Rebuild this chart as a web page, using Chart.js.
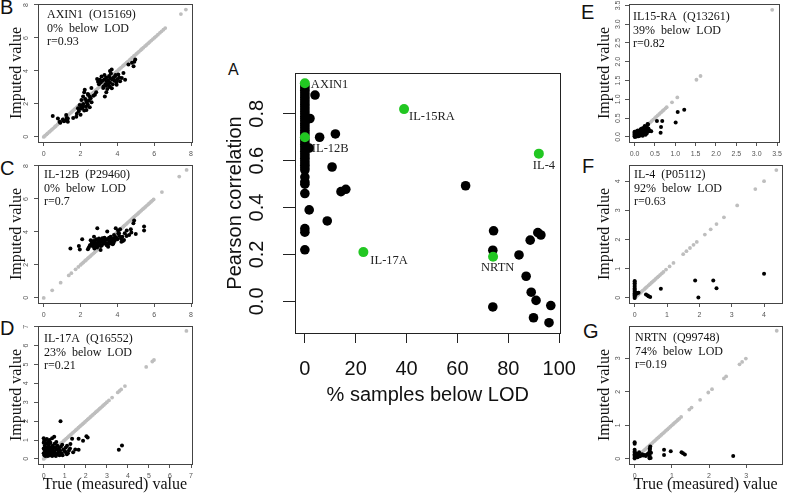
<!DOCTYPE html>
<html><head><meta charset="utf-8">
<script src="https://cdn.jsdelivr.net/npm/chart.js@4.4.1/dist/chart.umd.min.js"></script>
<style>
html,body{margin:0;padding:0;background:#fff}
body{width:786px;height:494px;position:relative;overflow:hidden}
canvas{position:absolute}
.lab{position:absolute;font-family:"Liberation Sans",Arial,sans-serif;color:#111;line-height:1;white-space:nowrap}
</style></head><body>
<div class="lab" style="left:0px;top:-3px;font-size:20px">B</div>
<div class="lab" style="left:0px;top:158px;font-size:20px">C</div>
<div class="lab" style="left:0px;top:318px;font-size:20px">D</div>
<div class="lab" style="left:581px;top:2px;font-size:20px">E</div>
<div class="lab" style="left:582px;top:156px;font-size:20px">F</div>
<div class="lab" style="left:583px;top:321px;font-size:20px">G</div>
<div class="lab" style="left:228px;top:62px;font-size:16px">A</div>
<script>
// ---------------- DATA ----------------
// Panel A: % samples below LOD vs Pearson correlation
const aBlackX = [0,0,0,0,0,0,0,0,0,0,0,0,0,0,0,0,0,0,0,0,0,0,0,0,0,0,0,0,0,0,0,0,0,0,0,0,0,0,0,0,0,0,0,
  4,2,5.8,12,1.7,10.7,14.2,16.1,63.2,1.7,8.8,74.2,73.9,91.6,92.8,88.6,84.2,87,89,90.9,73.9,96.7,89.9,96];
const aBlackY = [0.92,0.91,0.90,0.89,0.88,0.87,0.86,0.85,0.84,0.83,0.82,0.81,0.80,0.79,0.78,0.77,0.76,0.75,0.74,0.73,0.72,0.71,0.69,0.68,0.67,0.66,0.65,0.64,0.63,0.62,0.61,0.60,0.59,0.58,0.57,0.56,0.53,0.51,0.50,0.46,0.31,0.295,0.22,
  0.88,0.78,0.70,0.714,0.654,0.573,0.468,0.478,0.493,0.39,0.343,0.301,0.218,0.293,0.283,0.261,0.198,0.107,0.039,0.004,-0.024,-0.018,-0.07,-0.091];
const aGreenNames = ["AXIN1","IL-12B","IL-15RA","IL-4","IL-17A","NRTN"];
const aGreenX = [0,0,39,92,23,74];
const aGreenY = [0.93,0.70,0.82,0.63,0.21,0.19];
const aXTicks = ["0","20","40","60","80","100"];
const aYTicks = ["0.0","0.2","0.4","0.6","0.8"];

// Panel B: AXIN1
const bPts = [[0.49,1.27],[0.77,1.12],[0.86,0.92],[1.04,1.06],[1.22,1.33],[1.31,1.12],[1.31,0.92],[1.77,1.22],[1.86,1.73],[1.95,1.94],
 [2.05,2.24],[2.14,2.45],[2.14,1.84],[2.23,2.86],[2.32,2.14],[2.32,1.63],[2.41,2.55],[2.5,2.45],[2.59,2.96],[2.78,2.55],
 [2.9,3.51],[3.05,3.47],[3.14,3.67],[3.23,2.96],[3.32,2.45],[3.38,3.1],[3.42,3.37],[3.5,3.16],[3.6,3.57],[3.6,3.02],
 [3.69,4.08],[3.78,3.47],[3.87,3.67],[3.96,3.16],[4.05,3.78],[4.15,3.37],[4.24,3.57],[4.33,3.88],[4.42,3.47],[4.6,4.39],
 [4.79,4.49],[4.88,4.29],[4.97,4.69],[4.92,4.55],
 [1.9,1.55],[2.0,1.7],[2.05,1.9],[2.1,1.75],[2.15,2.0],[2.2,1.6],[2.25,2.3],[2.3,1.85],[2.35,2.05],[2.4,1.95],[2.45,2.2],[2.5,1.8],
 [2.55,2.35],[2.6,2.1],[2.7,2.5],[1.8,1.4],[1.6,1.15],[2.0,1.35],[2.2,2.7],[2.4,2.6],[1.2,1.0],[1.25,1.15],[1.1,0.95],[0.9,0.85],
 [3.0,3.2],[3.1,3.3],[3.2,3.4],[3.25,3.05],[3.3,3.5],[3.35,3.2],[3.4,3.6],[3.45,2.9],[3.5,3.4],[3.55,3.7],[3.6,3.3],[3.65,3.85],
 [3.7,3.5],[3.75,3.2],[3.8,3.6],[3.85,3.4],[3.9,3.75],[4.0,3.5],[4.1,3.6],[3.3,3.75],[3.55,3.1],[3.7,2.95],[3.6,4.0],[3.95,3.3],
 [3.4,2.7],[2.95,3.35],[2.85,2.7]];
const bGray = [0.0,0.07,0.15,0.21,0.3,0.37,0.44,0.52,0.6,0.66,0.75,0.83,0.9,0.97,1.06,1.12,1.2,1.29,1.35,1.43,1.5,1.58,1.66,1.73,1.8,1.87,1.96,2.03,2.1,2.19,2.25,2.33,2.41,2.47,2.56,2.63,2.7,2.79,2.85,2.93,3.01,3.08,3.15,3.24,3.3,3.37,3.46,3.52,3.6,3.69,3.75,3.83,3.9,3.97,4.06,4.12,4.2,4.29,4.35,4.43,4.5,4.57,4.66,4.72,4.8,4.89,4.95,5.03,5.1,5.17,5.26,5.33,5.41,5.5,5.58,5.67,5.75,5.84,5.93,6.02,6.1,6.2,6.31,6.4,6.5,6.6,7.45,7.72];
const bText = ["AXIN1  (O15169)","0%  below  LOD","r=0.93"];

// Panel C: IL-12B
const cPts = [[1.45,3.0],[1.91,3.14],[1.96,2.94],[2.09,3.55],[2.45,3.06],[2.51,3.2],[2.64,3.41],[2.73,3.71],[2.76,3.27],[2.82,3.1],
 [2.91,4.22],[2.95,3.51],[3.0,3.2],[3.09,3.41],[3.09,2.9],[3.18,3.61],[3.27,3.31],[3.36,3.55],[3.42,3.2],[3.45,4.02],
 [3.55,3.41],[3.64,3.71],[3.73,3.51],[3.78,3.31],[3.82,3.82],[3.91,4.22],[3.96,3.61],[4.04,4.08],[4.09,3.92],[4.15,4.16],
 [4.22,3.41],[4.27,3.71],[4.36,3.51],[4.4,3.92],[4.51,4.08],[4.64,3.82],[4.73,4.16],[4.76,3.96],[4.87,4.53],[4.91,4.69],
 [5.0,3.88],[5.45,4.33],[5.45,4.08],
 [2.6,3.3],[2.7,3.45],[2.75,3.0],[2.8,3.35],[2.85,3.55],[2.9,3.25],[2.95,3.4],[3.0,3.6],[3.05,3.3],[3.1,3.5],[3.15,3.2],[3.2,3.45],
 [3.25,3.6],[3.3,3.35],[3.35,3.5],[3.4,3.3],[3.45,3.55],[3.5,3.25],[3.55,3.65],[3.6,3.45],[3.65,3.3],[3.7,3.55],[3.75,3.4],[3.8,3.6],
 [3.85,3.45],[3.9,3.7],[4.0,3.55],[4.1,3.75],[4.2,3.6],[2.55,3.5],[2.65,3.15],[2.9,3.05],[3.1,3.15],[3.3,3.65],[3.5,3.1],[3.75,3.25],
 [4.05,3.9],[4.3,3.45],[4.5,3.75],[2.4,2.95]];
const cGray = [0.0,0.46,0.92,1.36,1.5,1.73,1.88,2.0,2.08,2.15,2.24,2.3,2.39,2.46,2.53,2.61,2.69,2.76,2.84,2.91,2.98,3.06,3.14,3.2,3.29,3.36,3.43,3.51,3.58,3.66,3.73,3.81,3.88,3.96,4.03,4.1,4.18,4.26,4.33,4.4,4.48,4.55,4.63,4.7,4.78,4.85,4.92,5.0,5.08,5.15,5.22,5.3,5.38,5.45,5.52,5.6,5.68,5.75,5.83,5.9,5.97,6.42,7.36,7.76];
const cText = ["IL-12B  (P29460)","0%  below  LOD","r=0.7"];

// Panel D: IL-17A
const dPts = [[0,1.1],[0,0.85],[0,0.55],[0,0.3],[0.02,0.95],[0.03,0.2],[0.05,0.7],[0.05,0.45],[0.06,1.0],[0.08,0.35],[0.08,0.15],
 [0.1,0.6],[0.1,0.25],[0.12,0.8],[0.12,0.4],[0.15,1.05],[0.15,0.2],[0.18,0.55],[0.18,0.3],[0.2,0.9],[0.2,0.15],[0.22,0.65],
 [0.25,0.4],[0.25,0.75],[0.28,0.2],[0.28,1.0],[0.3,0.5],[0.3,0.3],[0.32,0.85],[0.35,0.25],[0.35,0.6],[0.38,0.45],[0.4,1.1],
 [0.4,0.15],[0.42,0.7],[0.45,0.35],[0.45,0.55],[0.48,0.2],[0.5,1.17],[0.5,0.4],[0.52,0.8],[0.55,0.3],[0.55,0.6],[0.58,0.15],
 [0.6,0.9],[0.62,0.5],[0.65,0.25],[0.65,0.7],[0.7,0.35],[0.72,0.55],[0.75,0.2],[0.78,0.45],[0.8,2.0],[0.82,0.65],[0.85,0.3],
 [0.88,0.75],[0.9,0.2],[0.95,0.5],[1.0,0.4],[1.03,0.36],[1.05,0.6],[1.1,0.25],[1.11,0.7],[1.15,0.3],[1.2,0.45],[1.25,0.55],
 [1.27,0.79],[1.35,1.07],[1.4,0.35],[1.5,0.5],[1.66,1.07],[1.66,0.48],[1.87,0.96],[2.03,1.2],[2.09,1.14],[3.57,0.48],[3.72,0.71]];
const dGray = [0.0,0.06,0.12,0.19,0.25,0.31,0.38,0.44,0.5,0.57,0.63,0.69,0.76,0.82,0.88,0.95,1.01,1.07,1.14,1.2,1.27,1.33,1.39,1.46,1.52,1.58,1.65,1.71,1.77,1.84,1.9,1.96,2.03,2.09,2.15,2.22,2.28,2.34,2.41,2.47,2.53,2.6,2.66,2.72,2.79,2.86,2.93,3.0,3.1,3.25,3.52,3.6,3.68,3.86,4.87,5.16,5.24,6.78];
const dText = ["IL-17A  (Q16552)","23%  below  LOD","r=0.21"];

// Panel E: IL15-RA
const ePts = [[0,0.02],[0,0.05],[0,0.08],[0,0.11],[0,0.14],[0.01,0.0],[0.02,0.06],[0.02,0.12],[0.03,0.03],[0.04,0.09],[0.05,0.15],
 [0.05,0.01],[0.06,0.06],[0.07,0.11],[0.08,0.03],[0.08,0.17],[0.09,0.08],[0.1,0.13],[0.1,0.02],[0.11,0.06],[0.12,0.1],[0.13,0.15],
 [0.14,0.04],[0.15,0.08],[0.15,0.2],[0.16,0.12],[0.17,0.05],[0.18,0.22],[0.19,0.09],[0.2,0.14],[0.2,0.03],[0.21,0.18],[0.22,0.07],
 [0.23,0.25],[0.24,0.11],[0.25,0.29],[0.26,0.16],[0.27,0.06],[0.28,0.2],[0.29,0.12],[0.3,0.26],[0.3,0.09],[0.31,0.17],[0.32,0.34],
 [0.33,0.33],[0.34,0.22],[0.35,0.15],[0.37,0.17],[0.41,0.15],[0.55,0.42],[0.64,0.11],[0.65,0.26],[0.68,0.42],[1.01,0.38],[1.06,0.66],[1.22,0.72]];
const eGray = [0.0,0.04,0.08,0.11,0.15,0.19,0.23,0.27,0.3,0.34,0.38,0.42,0.46,0.5,0.53,0.57,0.61,0.65,0.69,0.72,0.76,0.79,0.92,1.05,1.52,1.62,3.38];
const eText = ["IL15-RA  (Q13261)","39%  below  LOD","r=0.82"];

// Panel F: IL-4
const fPts = [[0,0.0],[0,0.04],[0,0.08],[0,0.12],[0,0.16],[0,0.2],[0,0.24],[0,0.28],[0,0.32],[0,0.38],[0,0.44],[0,0.5],[0,0.55],[0,0.58],
 [0.02,0.1],[0.03,0.18],[0.05,0.14],[0.08,0.17],[0.12,0.18],[0.35,0.12],[0.4,0.08],[0.43,0.06],[0.48,0.03],[0.81,0.31],
 [1.87,0.6],[1.97,0.01],[2.43,0.6],[2.53,0.33],[4.0,0.83]];
const fGray = [0.0,0.04,0.08,0.12,0.17,0.21,0.25,0.3,0.34,0.38,0.43,0.47,0.52,0.56,0.6,0.65,0.7,0.74,0.79,0.84,0.89,0.97,1.08,1.2,1.5,1.6,1.71,1.82,1.92,2.17,2.35,2.53,2.76,3.17,3.73,4.0,4.38];
const fText = ["IL-4  (P05112)","92%  below  LOD","r=0.63"];

// Panel G: NRTN
const gPts = [[0,0.02],[0,0.06],[0,0.1],[0,0.14],[0,0.18],[0,0.22],[0,0.27],[0,0.45],[0,0.5],[0.03,0.08],[0.05,0.15],[0.08,0.05],
 [0.1,0.12],[0.12,0.2],[0.14,0.08],[0.17,0.1],[0.2,0.14],[0.23,0.1],[0.26,0.12],[0.3,0.09],[0.33,0.13],[0.36,0.15],[0.4,0.02],
 [0.4,0.06],[0.4,0.1],[0.4,0.16],[0.4,0.22],[0.41,0.27],[0.41,0.32],[0.42,0.37],[0.43,0.03],[0.44,0.18],[0.79,0.27],[0.79,0.12],
 [0.97,0.23],[1.26,0.2],[1.3,0.17],[1.35,0.13],[2.65,0.09]];
const gGray = [0.0,0.04,0.08,0.12,0.16,0.2,0.24,0.28,0.32,0.36,0.4,0.44,0.48,0.52,0.56,0.6,0.64,0.68,0.72,0.76,0.8,0.84,0.88,0.92,0.96,1.0,1.04,1.08,1.12,1.16,1.2,1.25,1.47,1.53,1.76,1.98,2.08,2.4,2.46,2.82,2.89,2.99,3.82];
const gText = ["NRTN  (Q99748)","74%  below  LOD","r=0.19"];

const ticks8 = ["0","2","4","6","8"];
const ticks7 = ["0","1","2","3","4","5","6","7"];
const ticksE = ["0.0","0.5","1.0","1.5","2.0","2.5","3.0","3.5"];
const ticks4 = ["0","1","2","3","4"];
const ticks3 = ["0","1","2","3"];

// ---------------- RENDER ----------------
const BLACK = '#000', GRAY = '#bebebe', GREEN = '#22c722';

function makeChart(o) {
  const c = document.createElement('canvas');
  c.width = o.cw; c.height = o.ch;
  c.style.left = o.cx + 'px'; c.style.top = o.cy + 'px';
  c.style.width = o.cw + 'px'; c.style.height = o.ch + 'px';
  document.body.appendChild(c);
  const [bl, bt, br, bb] = o.box;
  const boxPlugin = {
    id: 'rbox',
    afterDatasetsDraw(chart) {
      const a = chart.chartArea, ctx = chart.ctx;
      ctx.save(); ctx.strokeStyle = o.boxColor; ctx.lineWidth = 1;
      ctx.strokeRect(Math.round(a.left) + 0.5, Math.round(a.top) + 0.5, Math.round(a.right - a.left), Math.round(a.bottom - a.top));
      ctx.restore();
    }
  };
  const rotY = {
    id: 'rotY',
    afterDraw(chart) {
      const s = chart.scales.y, ctx = chart.ctx, a = chart.chartArea;
      ctx.save(); ctx.font = o.yLabFont; ctx.fillStyle = o.tickColor;
      ctx.textAlign = 'center'; ctx.textBaseline = 'middle';
      o.yt.forEach(t => {
        const y = s.getPixelForValue(parseFloat(t));
        ctx.save(); ctx.translate(a.left - o.yLabOff, y); ctx.rotate(-Math.PI / 2);
        ctx.fillText(t, 0, 0); ctx.restore();
      });
      ctx.restore();
    }
  };
  const extra = {
    id: 'extra',
    afterDraw(chart) { if (o.afterDraw) o.afterDraw(chart); }
  };
  const tickFont = o.tickFont;
  return new Chart(c, {
    type: 'scatter',
    data: { datasets: o.datasets },
    options: {
      responsive: false, animation: false, devicePixelRatio: 1, events: [],
      layout: { autoPadding: false, padding: { left: 0, top: bt - o.cy, right: o.cx + o.cw - br, bottom: 0 } },
      plugins: { legend: { display: false }, tooltip: { enabled: false } },
      scales: {
        x: {
          type: 'linear', min: o.xr[0], max: o.xr[1],
          afterFit: s => { s.height = o.cy + o.ch - bb; },
          afterBuildTicks: s => { s.ticks = o.xt.map(t => ({ value: parseFloat(t) })); },
          ticks: { autoSkip: false, maxRotation: 0, minRotation: 0, padding: o.xPad, font: tickFont, color: o.tickColor,
                   callback: (v, i) => o.xt[i] },
          grid: { display: true, drawOnChartArea: false, drawTicks: true, tickLength: o.xTL, color: o.tickLineColor, lineWidth: 1 },
          border: { display: false },
          title: o.xTitle ? { display: true, text: o.xTitle, font: o.titleFont, color: '#111', padding: { top: 0, bottom: o.xTitlePad } } : { display: false }
        },
        y: {
          type: 'linear', min: o.yr[0], max: o.yr[1],
          afterFit: s => { s.width = bl - o.cx; },
          afterBuildTicks: s => { s.ticks = o.yt.map(t => ({ value: parseFloat(t) })); },
          ticks: { display: false },
          grid: { display: true, drawOnChartArea: false, drawTicks: true, tickLength: o.yTL, color: o.tickLineColor, lineWidth: 1 },
          border: { display: false },
          title: { display: true, text: o.yTitle, font: o.titleFont, color: '#111', padding: { top: o.yTitlePad, bottom: 0 } }
        }
      }
    },
    plugins: [boxPlugin, rotY, extra]
  });
}

function pts(arr) { return arr.map(p => ({ x: p[0], y: p[1] })); }
function diag(arr) { return arr.map(v => ({ x: v, y: v })); }

function small(o) {
  const lines = o.text;
  return makeChart({
    cx: o.cx, cy: o.cy, cw: o.cw, ch: o.ch, box: o.box, xr: o.r, yr: o.r, xt: o.ticks, yt: o.ticks,
    boxColor: '#444', tickColor: '#555', tickLineColor: '#555',
    tickFont: { family: 'Liberation Sans', size: 7 }, yLabFont: '7px "Liberation Sans"', yLabOff: o.yLabOff,
    xPad: 4, xTL: 4, yTL: 4,
    titleFont: { family: 'Liberation Serif', size: 16 },
    yTitle: 'Imputed value', yTitlePad: o.yTitlePad,
    xTitle: o.xTitle, xTitlePad: 0,
    datasets: [
      { data: pts(o.pts), backgroundColor: BLACK, borderWidth: 0, pointRadius: 2, clip: 4 },
      { data: diag(o.gray), backgroundColor: GRAY, borderWidth: 0, pointRadius: 1.9, clip: 4 }
    ],
    afterDraw(chart) {
      const ctx = chart.ctx, a = chart.chartArea;
      ctx.save(); ctx.font = '12px "Liberation Serif"'; ctx.fillStyle = '#111'; ctx.textBaseline = 'middle';
      lines.forEach((t, i) => ctx.fillText(t, a.left + o.tdx, a.top + o.tdy + i * 13.4));
      ctx.restore();
    }
  });
}

small({ cx: 0, cy: 0, cw: 197, ch: 160, box: [38, 4, 193, 142], r: [-0.31, 8.06], ticks: ticks8, pts: bPts, gray: bGray, text: bText, tdx: 9, tdy: 11, yLabOff: 12, yTitlePad: 7 });
small({ cx: 0, cy: 161, cw: 197, ch: 160, box: [38, 165, 193, 303], r: [-0.31, 8.06], ticks: ticks8, pts: cPts, gray: cGray, text: cText, tdx: 6, tdy: 10, yLabOff: 12, yTitlePad: 7 });
small({ cx: 0, cy: 322, cw: 197, ch: 172, box: [38, 326, 193, 464], r: [-0.27, 7.04], ticks: ticks7, pts: dPts, gray: dGray, text: dText, tdx: 6, tdy: 13, yLabOff: 12, yTitlePad: 7, xTitle: 'True (measured) value' });
small({ cx: 590, cy: 0, cw: 196, ch: 160, box: [629, 4, 782, 142], r: [-0.136, 3.536], ticks: ticksE, pts: ePts, gray: eGray, text: eText, tdx: 4, tdy: 13, yLabOff: 11, yTitlePad: 5 });
small({ cx: 590, cy: 161, cw: 196, ch: 160, box: [629, 165, 782, 303], r: [-0.175, 4.555], ticks: ticks4, pts: fPts, gray: fGray, text: fText, tdx: 5, tdy: 10, yLabOff: 11, yTitlePad: 5 });
small({ cx: 590, cy: 322, cw: 196, ch: 172, box: [629, 326, 782, 464], r: [-0.152, 3.962], ticks: ticks3, pts: gPts, gray: gGray, text: gText, tdx: 6, tdy: 12, yLabOff: 11, yTitlePad: 5, xTitle: 'True (measured) value' });

// Panel A
const labelOffsets = [[6, 1], [7, 11], [5, 8], [-6, 12], [7, 9], [-12, 11]];
const labelAlign = ['left', 'left', 'left', 'left', 'left', 'left'];
makeChart({
  cx: 212, cy: 50, cw: 378, ch: 370, box: [295, 73, 564, 333],
  xr: [-3.88, 100.5], yr: [-0.135, 0.974], xt: aXTicks, yt: aYTicks,
  boxColor: '#222', tickColor: '#111', tickLineColor: '#222',
  tickFont: { family: 'Liberation Sans', size: 20 }, yLabFont: '20px "Liberation Sans"', yLabOff: 38,
  xPad: 14, xTL: 10, yTL: 12,
  titleFont: { family: 'Liberation Sans', size: 20 },
  yTitle: 'Pearson correlation', yTitlePad: 11,
  xTitle: '% samples below LOD', xTitlePad: 13,
  datasets: [
    { data: aGreenX.map((x, i) => ({ x, y: aGreenY[i] })), backgroundColor: GREEN, borderWidth: 0, pointRadius: 5, clip: 8 },
    { data: aBlackX.map((x, i) => ({ x, y: aBlackY[i] })), backgroundColor: BLACK, borderWidth: 0, pointRadius: 4.8, clip: 8 }
  ],
  afterDraw(chart) {
    const ctx = chart.ctx, meta = chart.getDatasetMeta(0);
    ctx.save(); ctx.font = '12.5px "Liberation Serif"'; ctx.fillStyle = '#222'; ctx.textBaseline = 'middle';
    aGreenNames.forEach((n, i) => {
      const p = meta.data[i];
      ctx.textAlign = labelAlign[i];
      ctx.fillText(n, p.x + labelOffsets[i][0], p.y + labelOffsets[i][1]);
    });
    ctx.restore();
  }
});
</script>
</body></html>
